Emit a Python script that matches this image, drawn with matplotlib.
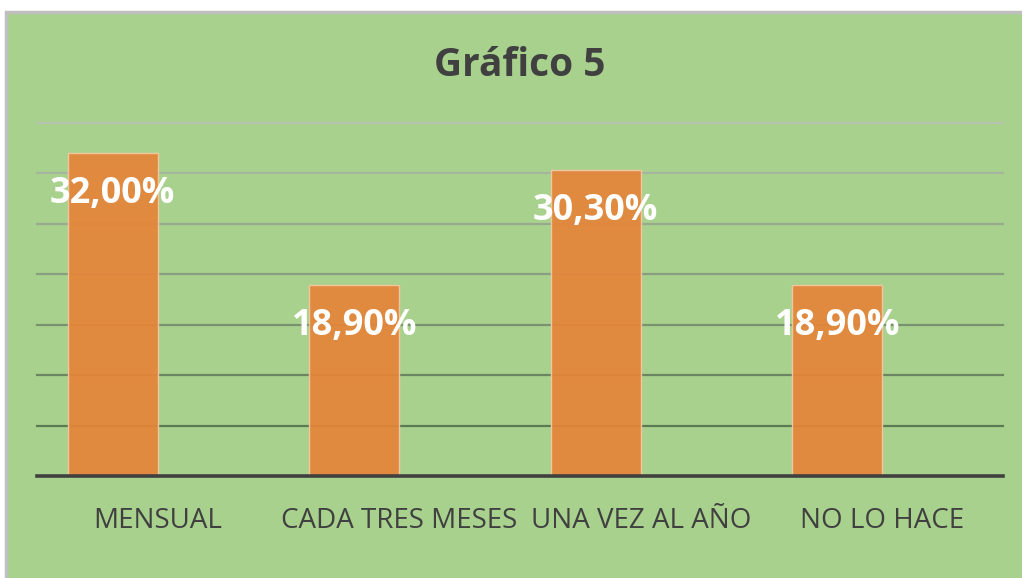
import numpy as np
import matplotlib.pyplot as plt
from matplotlib.patches import Rectangle
from matplotlib.colors import to_rgb

# Data
categories = ["MENSUAL", "CADA TRES MESES", "UNA VEZ AL AÑO", "NO LO HACE"]
values = [32.0, 18.9, 30.3, 18.9]
labels = ["32,00%", "18,90%", "30,30%", "18,90%"]
title = "Gráfico 5"

bg = "#a9d18e"
bar_color = "#e5853a"
text_dark = "#404040"

plt.rcParams['font.family'] = ['Open Sans', 'DejaVu Sans']

W, H = 1022, 578
fig = plt.figure(figsize=(W / 100, H / 100), dpi=100, facecolor="white")

# chart frame (cropped on right/bottom like the screenshot)
frame = Rectangle((6 / W, -0.05), 1.1, (H - 12) / H + 0.05, transform=fig.transFigure,
                  facecolor=bg, edgecolor="#bfbfbf", linewidth=2.5, zorder=-10)
fig.patches.append(frame)

ax = fig.add_axes([37 / W, (H - 476) / H, (1003 - 37) / W, (476 - 123) / H])
ax.set_facecolor("none")
ax.set_xlim(-0.5, len(categories) - 0.5)
ax.set_ylim(0, 35)

# gridlines fade from dark (bottom) to light (top)
grid_levels = np.arange(5, 36, 5)
dark, light = np.array(to_rgb("#5c7a52")), np.array(to_rgb("#b5c2ad"))
for i, g in enumerate(grid_levels):
    t = i / (len(grid_levels) - 1)
    ax.axhline(g, color=tuple(dark * (1 - t) + light * t), linewidth=1.6,
               zorder=1, clip_on=False)

# bars sit in the left slot of each category (second series is empty)
x = np.arange(len(categories))
w = 0.373
bx = x - w / 2
ax.bar(bx, values, width=w, color=bar_color, alpha=0.93,
       edgecolor="#f3c9a2", linewidth=1.0, zorder=2)

for xi, v, lab in zip(bx, values, labels):
    ax.annotate(lab, (xi, v), xytext=(0, -29), textcoords="offset points",
                ha="center", va="center", color="white", fontsize=26,
                fontweight="bold", zorder=3)

ax.axhline(0, color=text_dark, linewidth=2.6, zorder=4, clip_on=False)

for s in ax.spines.values():
    s.set_visible(False)
ax.set_yticks([])
ax.set_xticks(x)
ax.set_xticklabels(categories, fontsize=20, color=text_dark)
ax.tick_params(axis="x", length=0, pad=22)

fig.text(520 / W, 1 - 66 / H, title, ha="center", va="center",
         fontsize=28, fontweight="bold", color=text_dark)

fig.savefig("out.png", dpi=100, facecolor="white")
